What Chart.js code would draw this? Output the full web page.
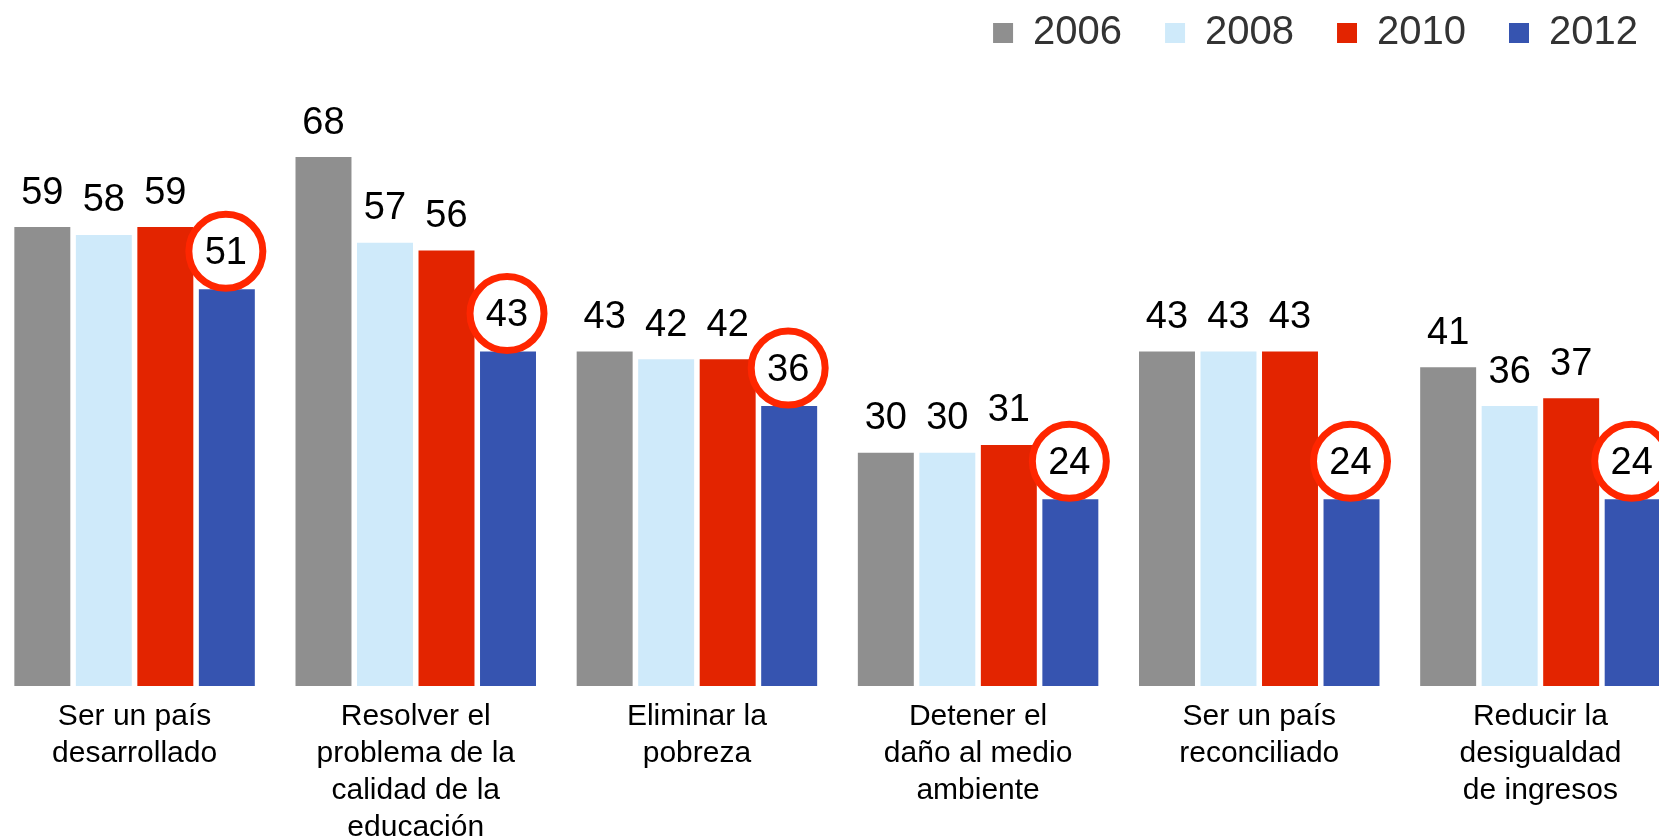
<!DOCTYPE html>
<html><head><meta charset="utf-8">
<script src="https://cdn.jsdelivr.net/npm/chart.js@4.4.1/dist/chart.umd.min.js"></script>
<style>
html,body{margin:0;padding:0;background:#fff;overflow:hidden;width:1659px;height:837px}
#wrap{position:absolute;left:-6px;top:0;width:1687px;height:850px}
</style></head><body>
<div id="wrap"><canvas id="c"></canvas></div>
<script>
const categories = [
  ["Ser un país", "desarrollado"],
  ["Resolver el", "problema de la", "calidad de la", "educación"],
  ["Eliminar la", "pobreza"],
  ["Detener el", "daño al medio", "ambiente"],
  ["Ser un país", "reconciliado"],
  ["Reducir la", "desigualdad", "de ingresos"]
];
const years = ["2006", "2008", "2010", "2012"];
const values2006 = [59, 68, 43, 30, 43, 41];
const values2008 = [58, 57, 42, 30, 43, 36];
const values2010 = [59, 56, 42, 31, 43, 37];
const values2012 = [51, 43, 36, 24, 24, 24];
const seriesValues = [values2006, values2008, values2010, values2012];
const seriesColors = ["#8f8f8f", "#cfeafa", "#e32400", "#3654b0"];
const highlightedSeries = 3;

const FONT = '"Liberation Sans", Arial, sans-serif';

const valueLabels = {
  id: 'valueLabels',
  afterDatasetsDraw(chart) {
    const ctx = chart.ctx;
    ctx.save();
    ctx.font = '38px ' + FONT;
    ctx.textAlign = 'center';
    ctx.textBaseline = 'middle';
    chart.data.datasets.forEach((ds, i) => {
      const meta = chart.getDatasetMeta(i);
      meta.data.forEach((bar, j) => {
        const v = ds.data[j];
        let x = bar.x, y = bar.y - 36;
        if (i === highlightedSeries) {
          x = bar.x - 1; y = bar.y - 38;
          ctx.beginPath();
          ctx.arc(x, y, 37, 0, Math.PI * 2);
          ctx.fillStyle = '#ffffff';
          ctx.fill();
          ctx.lineWidth = 7;
          ctx.strokeStyle = '#ff2600';
          ctx.stroke();
        }
        ctx.fillStyle = '#000000';
        ctx.fillText(String(v), x, y + 2);
      });
    });
    ctx.restore();
  }
};

new Chart(document.getElementById('c'), {
  type: 'bar',
  data: {
    labels: categories,
    datasets: years.map((y, i) => ({
      label: y,
      data: seriesValues[i],
      backgroundColor: seriesColors[i],
      borderWidth: 0,
      categoryPercentage: 0.875,
      barPercentage: 0.91
    }))
  },
  options: {
    responsive: true,
    maintainAspectRatio: false,
    animation: false,
    layout: { padding: { top: -30, left: 0, right: 0, bottom: -8 } },
    plugins: {
      legend: {
        display: true,
        position: 'top',
        align: 'end',
        labels: {
          boxWidth: 20,
          boxHeight: 20,
          padding: 43,
          color: '#333333',
          font: { family: FONT, size: 40 }
        }
      },
      tooltip: { enabled: false },
      title: { display: false }
    },
    scales: {
      x: {
        grid: { display: false, drawTicks: false },
        border: { display: false },
        ticks: {
          color: '#000000',
          font: { family: FONT, size: 30, lineHeight: 1.233 },
          padding: 12,
          maxRotation: 0,
          autoSkip: false
        }
      },
      y: {
        display: false,
        min: 0,
        max: 80.1
      }
    }
  },
  plugins: [valueLabels]
});
</script>
</body></html>
